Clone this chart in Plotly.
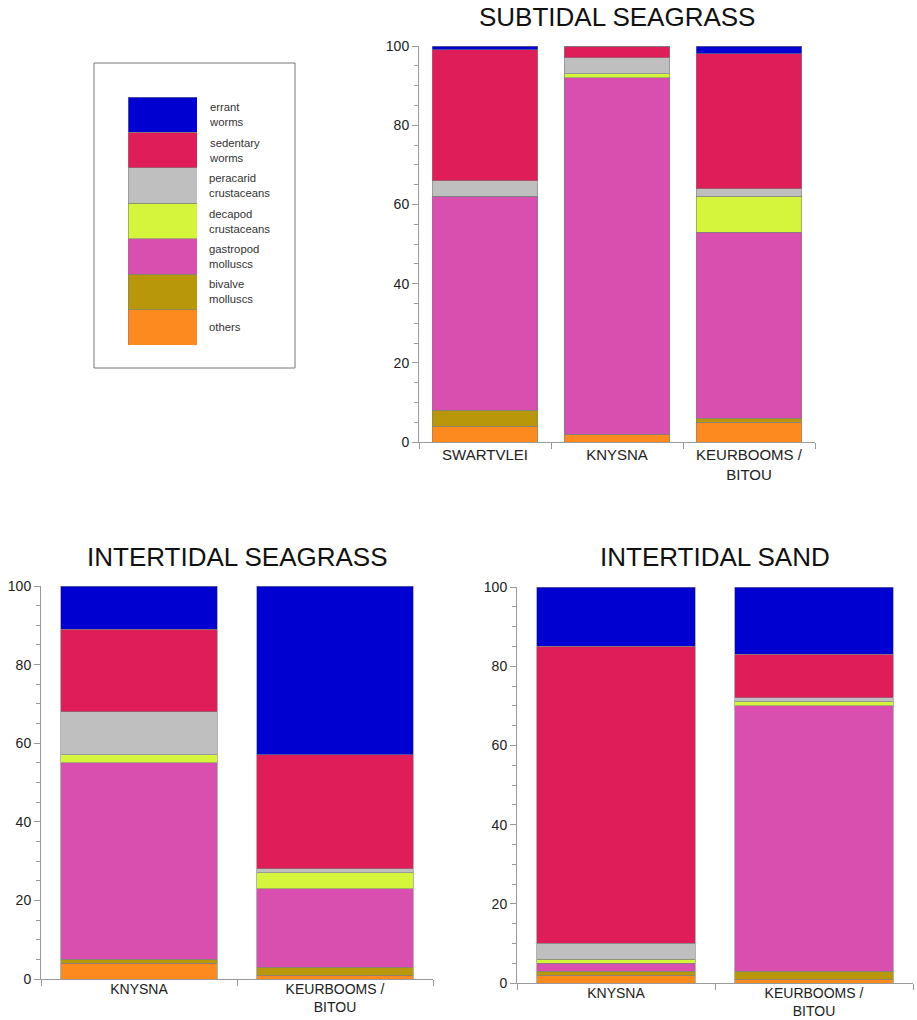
import plotly.graph_objects as go

W, H = 917, 1020

# ---- data (stacking order bottom -> top) ----
groups = ["others", "bivalve molluscs", "gastropod molluscs", "decapod crustaceans",
          "peracarid crustaceans", "sedentary worms", "errant worms"]
legend_labels = ["others", "bivalve<br>molluscs", "gastropod<br>molluscs", "decapod<br>crustaceans",
                 "peracarid<br>crustaceans", "sedentary<br>worms", "errant<br>worms"]
colors = ["#FC8A1E", "#B8980A", "#D84FB0", "#D5F53D", "#BFBFBF", "#DF1D59", "#0000D0"]

sub_sites = ["SWARTVLEI", "KNYSNA", "KEURBOOMS /<br>BITOU"]
sub_others = [4, 2, 5]
sub_bivalve = [4, 0, 1]
sub_gastropod = [54, 90, 47]
sub_decapod = [0, 1, 9]
sub_peracarid = [4, 4, 2]
sub_sedentary = [33, 3, 34]
sub_errant = [1, 0, 2]

isg_sites = ["KNYSNA", "KEURBOOMS /<br>BITOU"]
isg_others = [4, 1]
isg_bivalve = [1, 2]
isg_gastropod = [50, 20]
isg_decapod = [2, 4]
isg_peracarid = [11, 1]
isg_sedentary = [21, 29]
isg_errant = [11, 43]

isd_sites = ["KNYSNA", "KEURBOOMS /<br>BITOU"]
isd_others = [2, 1]
isd_bivalve = [1, 2]
isd_gastropod = [2, 67]
isd_decapod = [1, 1]
isd_peracarid = [4, 1]
isd_sedentary = [75, 11]
isd_errant = [15, 17]

panels = [
    ("x", "y", sub_sites, [sub_others, sub_bivalve, sub_gastropod, sub_decapod,
                           sub_peracarid, sub_sedentary, sub_errant]),
    ("x2", "y2", isg_sites, [isg_others, isg_bivalve, isg_gastropod, isg_decapod,
                             isg_peracarid, isg_sedentary, isg_errant]),
    ("x3", "y3", isd_sites, [isd_others, isd_bivalve, isd_gastropod, isd_decapod,
                             isd_peracarid, isd_sedentary, isd_errant]),
]

FONT = "Liberation Sans, Arial, sans-serif"
AXC = "#9a9a9a"
OUTLINE = dict(color="#808080", width=0.6)

fig = go.Figure()
for xa, ya, sites, series in panels:
    for g, col, vals in zip(groups, colors, series):
        fig.add_trace(go.Bar(x=sites, y=vals, name=g, marker=dict(color=col, line=OUTLINE),
                             xaxis=xa, yaxis=ya, showlegend=False))

# legend as a stacked column
for g, col in zip(groups, colors):
    fig.add_trace(go.Bar(x=[0], y=[1], width=[1], name=g, marker=dict(color=col, line=OUTLINE),
                         xaxis="x4", yaxis="y4", showlegend=False, hoverinfo="skip"))


def px_x(a, b):
    return [a / W, b / W]


def px_y(top, bottom):
    return [1 - bottom / H, 1 - top / H]


def xax(dom, anchor, size=15, standoff=0):
    return dict(domain=dom, anchor=anchor, type="category", showline=True, linecolor=AXC,
                linewidth=1, ticks="outside", tickson="boundaries", ticklen=6, tickcolor=AXC,
                showgrid=False, zeroline=False, tickfont=dict(family=FONT, size=size, color="#222"),
                ticklabelstandoff=standoff, fixedrange=True, automargin=False)


def yax(dom, anchor):
    return dict(domain=dom, anchor=anchor, range=[0, 100], showline=True, linecolor=AXC,
                linewidth=1, ticks="outside", ticklen=6, tickcolor=AXC, dtick=20,
                minor=dict(dtick=5, ticks="outside", ticklen=4, tickcolor=AXC, showgrid=False),
                showgrid=False, zeroline=False, automargin=False,
                tickfont=dict(family=FONT, size=14, color="#222"))


fig.update_layout(
    width=W, height=H, margin=dict(l=0, r=0, t=0, b=0, autoexpand=False),
    paper_bgcolor="white", plot_bgcolor="white",
    barmode="stack", bargap=0.2,
    xaxis=xax(px_x(419, 815), "y", 15, -1),
    yaxis=yax(px_y(46, 442), "x"),
    xaxis2=xax(px_x(41, 433), "y2", 14, -3),
    yaxis2=yax(px_y(586, 979), "x2"),
    xaxis3=xax(px_x(517, 913), "y3", 14, -3),
    yaxis3=yax(px_y(587, 983), "x3"),
    xaxis4=dict(domain=px_x(128, 197), anchor="y4", range=[-0.5, 0.5], visible=False),
    yaxis4=dict(domain=px_y(97, 345), anchor="x4", range=[0, 7], visible=False),
)

ann = []
titles = [("SUBTIDAL SEAGRASS", 617, 17), ("INTERTIDAL SEAGRASS", 237, 557),
          ("INTERTIDAL SAND", 715, 557)]
for t, cx, cy in titles:
    ann.append(dict(text=t, x=cx / W, y=1 - cy / H, xref="paper", yref="paper",
                    xanchor="center", yanchor="middle", showarrow=False,
                    font=dict(family=FONT, size=26, color="#111")))
for i, lab in enumerate(legend_labels):
    ann.append(dict(text=lab, x=207 / W, y=i + 0.5, xref="paper", yref="y4",
                    xanchor="left", yanchor="middle", align="left", showarrow=False,
                    font=dict(family=FONT, size=11.3, color="#333")))
fig.update_layout(annotations=ann)

fig.add_shape(type="rect", xref="paper", yref="paper",
              x0=94 / W, x1=295 / W, y0=1 - 368 / H, y1=1 - 63 / H,
              line=dict(color="#777", width=1), fillcolor="rgba(0,0,0,0)")

fig.write_html("out.html")
